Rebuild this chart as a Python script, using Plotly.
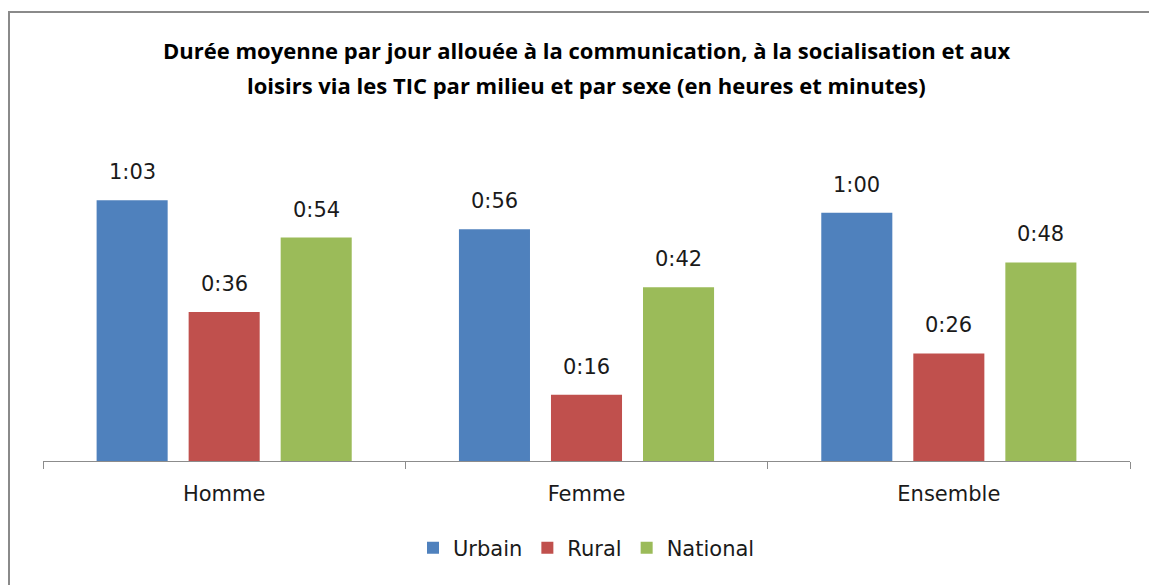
import plotly.graph_objects as go

# Data (minutes per day)
categories = ["Homme", "Femme", "Ensemble"]
series_names = ["Urbain", "Rural", "National"]
urbain = [63, 56, 60]
rural = [36, 16, 26]
national = [54, 42, 48]

COLORS = {"Urbain": "#4F81BD", "Rural": "#C0504D", "National": "#9BBB59"}
LABEL_FONT = "DejaVu Sans, Verdana, sans-serif"
TITLE_FONT = "Open Sans, Noto Sans, sans-serif"

title_lines = [
    "Durée moyenne par jour allouée à la communication, à la socialisation et aux",
    "loisirs via les TIC par milieu et par sexe (en heures et minutes)",
]


def fmt(minutes):
    return f"{minutes // 60}:{minutes % 60:02d}"


# page body has an 8px margin, so the figure is sized/offset to compensate
W, H = 1149, 577
ml, mr, mt, mb = 35, 27, 122, 124
pw, ph = W - ml - mr, H - mt - mb

fig = go.Figure()
values = {"Urbain": urbain, "Rural": rural, "National": national}
for name in series_names:
    fig.add_trace(go.Bar(
        name=name,
        x=categories,
        y=values[name],
        marker_color=COLORS[name],
        marker_line_width=0,
        hoverinfo="skip",
    ))

# value labels above bars
shifts = {"Urbain": -92, "Rural": 0, "National": 92}
annotations = []
for name in series_names:
    for cat, v in zip(categories, values[name]):
        annotations.append(dict(
            x=cat, y=v, xref="x", yref="y", text=fmt(v),
            showarrow=False, xshift=shifts[name], yshift=14,
            yanchor="bottom", font=dict(family=LABEL_FONT, size=21, color="#1a1a1a"),
        ))

# two-line title with Excel-like line spacing
for i, line in enumerate(title_lines):
    py = 42 + 35 * i
    annotations.append(dict(
        x=0.5, y=(H - mb - py) / ph, xref="paper", yref="paper",
        text=f"<b>{line}</b>", showarrow=False, xanchor="center", yanchor="middle",
        font=dict(family=TITLE_FONT, size=22, color="#000000"),
    ))

fig.update_layout(
    width=W, height=H,
    margin=dict(l=ml, r=mr, t=mt, b=mb),
    plot_bgcolor="white", paper_bgcolor="white",
    barmode="group", bargap=0.238, bargroupgap=0.228,
    annotations=annotations,
    showlegend=True,
    legend=dict(
        orientation="h", x=0.5, xanchor="center",
        y=(H - mb - 540) / ph, yanchor="middle",
        font=dict(family=LABEL_FONT, size=21, color="#1a1a1a"),
        itemwidth=30,
    ),
    xaxis=dict(
        showline=True, linecolor="#8c8c8c", linewidth=1,
        ticks="outside", tickson="boundaries", ticklen=7, tickcolor="#8c8c8c",
        tickfont=dict(family=LABEL_FONT, size=21, color="#1a1a1a"),
        ticklabelstandoff=14,
        showgrid=False, fixedrange=True,
    ),
    yaxis=dict(range=[0, 80], visible=False, fixedrange=True),
    shapes=[dict(
        type="rect", xref="paper", yref="paper",
        x0=(1 - ml) / pw, x1=(1165 - ml) / pw,
        y0=(H - mb - 600) / ph, y1=(H - mb - 4) / ph,
        line=dict(color="#8a8a8a", width=2), fillcolor="rgba(0,0,0,0)",
        layer="below",
    )],
)

fig.write_html("out.html")
